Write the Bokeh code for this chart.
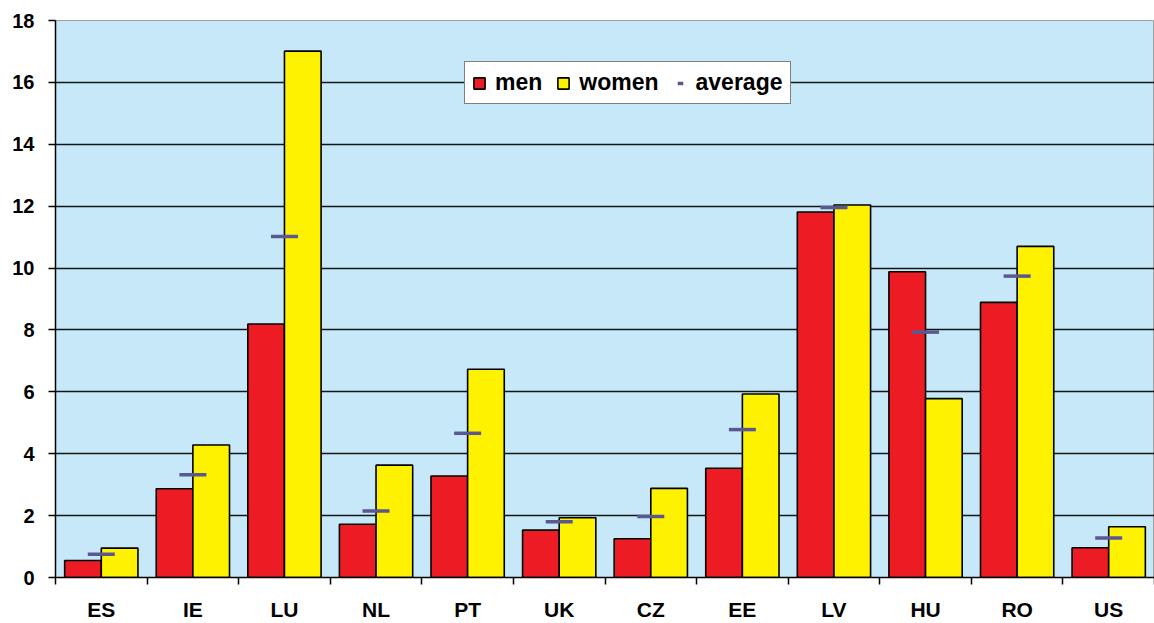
from bokeh.plotting import figure
from bokeh.models import ColumnDataSource, FixedTicker, Legend, LegendItem, Range1d
from bokeh.embed import file_html
from bokeh.resources import INLINE
from bokeh.transform import dodge

countries = ["ES", "IE", "LU", "NL", "PT", "UK", "CZ", "EE", "LV", "HU", "RO", "US"]
men = [0.55, 2.87, 8.19, 1.72, 3.28, 1.53, 1.25, 3.53, 11.81, 9.88, 8.89, 0.96]
women = [0.95, 4.28, 17.01, 3.63, 6.73, 1.93, 2.88, 5.93, 12.04, 5.78, 10.70, 1.64]
average = [0.75, 3.32, 11.02, 2.15, 4.66, 1.80, 1.97, 4.78, 11.96, 7.93, 9.74, 1.28]
y_ticks = [0, 2, 4, 6, 8, 10, 12, 14, 16, 18]

n = len(countries)
centers = [i + 0.5 for i in range(n)]
src = ColumnDataSource(dict(x=centers, men=men, women=women, average=average))

FONT = "Liberation Sans"

p = figure(width=1154, height=623, output_backend="svg", toolbar_location=None,
           x_range=Range1d(0, n), y_range=Range1d(0, 18),
           min_border_left=55, min_border_right=0, min_border_top=20, min_border_bottom=46)
p.background_fill_color = "#c6e8f8"
p.border_fill_color = "white"
p.outline_line_color = "#a0a0a0"
p.outline_line_width = 1

r_men = p.vbar(x=dodge("x", -0.2, range=p.x_range), top="men", width=0.4, source=src,
               fill_color="#ed1c24", line_color="black", line_width=1.6)
r_women = p.vbar(x=dodge("x", 0.2, range=p.x_range), top="women", width=0.4, source=src,
                 fill_color="#fff200", line_color="black", line_width=1.6)
r_avg = p.scatter(x="x", y="average", source=src, marker="dash", size=27,
                  line_color="#5a5890", line_width=3.5)

# axes
p.xaxis.ticker = FixedTicker(ticks=centers, minor_ticks=list(range(n + 1)))
p.xaxis.major_label_overrides = {c: lab for c, lab in zip(centers, countries)}
p.xaxis.major_tick_out = 0
p.xaxis.major_tick_in = 0
p.xaxis.minor_tick_out = 7
p.xaxis.minor_tick_in = 0
p.xaxis.minor_tick_line_color = "black"
p.xaxis.minor_tick_line_width = 1.5
p.xaxis.axis_line_color = "black"
p.xaxis.axis_line_width = 1.5
p.xaxis.major_label_standoff = 13
p.xaxis.major_label_text_font = FONT
p.xaxis.major_label_text_font_style = "bold"
p.xaxis.major_label_text_font_size = "21px"
p.xaxis.major_label_text_color = "black"

p.yaxis.ticker = FixedTicker(ticks=y_ticks)
p.yaxis.minor_tick_line_color = None
p.yaxis.major_tick_out = 7
p.yaxis.major_tick_in = 0
p.yaxis.major_tick_line_color = "black"
p.yaxis.major_tick_line_width = 1.5
p.yaxis.axis_line_color = "black"
p.yaxis.axis_line_width = 1.5
p.yaxis.major_label_standoff = 14
p.yaxis.major_label_text_font = FONT
p.yaxis.major_label_text_font_style = "bold"
p.yaxis.major_label_text_font_size = "20px"
p.yaxis.major_label_text_color = "black"

p.xgrid.grid_line_color = None
p.ygrid.ticker = FixedTicker(ticks=y_ticks[1:-1])
p.ygrid.grid_line_color = "black"
p.ygrid.grid_line_width = 1.5
p.ygrid.grid_line_alpha = 0.9

legend = Legend(items=[LegendItem(label="men", renderers=[r_men]),
                       LegendItem(label="women", renderers=[r_women]),
                       LegendItem(label="average", renderers=[r_avg])],
                orientation="horizontal", location=(409, 473))
legend.label_text_font = FONT
legend.label_text_font_style = "bold"
legend.label_text_font_size = "23px"
legend.label_text_color = "black"
legend.glyph_width = 14
legend.glyph_height = 14
legend.label_standoff = 9
legend.spacing = 14
legend.padding = 7
legend.margin = 0
legend.border_line_color = "black"
legend.border_line_width = 1.5
legend.background_fill_color = "white"
legend.background_fill_alpha = 1
p.add_layout(legend, "center")

open("out.html", "w").write(file_html(p, INLINE))
